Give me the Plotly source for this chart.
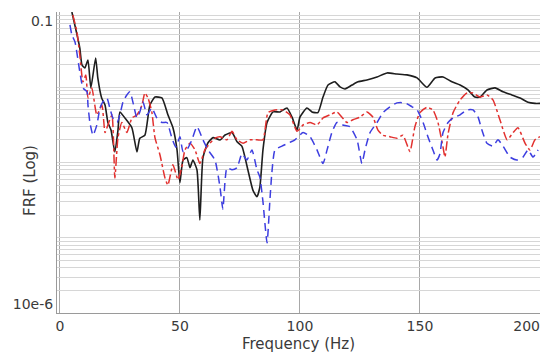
import plotly.graph_objects as go

# Frequency (Hz) / FRF magnitude
freq_black = [5.0, 6.7, 8.3, 9.2, 10.4, 11.7, 12.9, 14.9, 15.8, 17.4, 18.8, 20.0, 21.3, 22.9, 24.2, 25.0,
              27.1, 30.0, 32.1, 33.3, 35.4, 37.5, 39.6, 42.5, 45.0, 47.1, 48.8, 50.0, 51.3, 52.9, 54.2,
              55.4, 57.1, 58.3, 59.6, 61.7, 63.8, 66.7, 68.8, 71.7, 73.8, 75.8, 78.3, 80.4, 82.1, 83.3,
              84.6, 86.3, 88.8, 91.7, 94.6, 96.7, 98.8, 100.0, 102.9, 105.0, 107.5, 109.6, 111.7, 114.6,
              116.7, 118.8, 121.7, 124.2, 127.9, 132.1, 136.3, 140.4, 144.6, 148.8, 152.9, 156.3, 159.6,
              163.3, 166.7, 170.0, 172.9, 175.0, 177.9, 181.3, 184.6, 188.3, 191.7, 195.0, 197.9, 200.0]
frf_black = [0.1, 0.0577, 0.0332, 0.0198, 0.018, 0.023, 0.0098, 0.0245, 0.0133, 0.0072, 0.0058, 0.0034,
             0.0027, 0.00138, 0.0027, 0.0047, 0.0039, 0.0029, 0.00138, 0.0021, 0.0023, 0.0058, 0.0074,
             0.0072, 0.0043, 0.0029, 0.00147, 0.00054, 0.00108, 0.00116, 0.00085, 0.00108, 0.0008,
             0.000172, 0.00116, 0.00183, 0.00214, 0.00199, 0.00232, 0.0025, 0.00188, 0.00165, 0.0008,
             0.00043, 0.00035, 0.00047, 0.00147, 0.0034, 0.0047, 0.0047, 0.0053, 0.004, 0.0027, 0.004,
             0.0053, 0.0047, 0.0046, 0.0074, 0.0107, 0.0118, 0.0101, 0.0095, 0.0107, 0.0118, 0.0125,
             0.0137, 0.0155, 0.015, 0.0146, 0.0133, 0.01, 0.0133, 0.0137, 0.0118, 0.0107, 0.0092, 0.0074,
             0.0074, 0.0092, 0.0098, 0.0087, 0.0079, 0.0072, 0.0063, 0.0061, 0.0061]

freq_red = [5.4, 7.1, 8.3, 9.6, 10.8, 11.7, 13.3, 15.4, 17.5, 18.8, 20.0, 21.7, 22.9, 24.2, 25.8, 27.9,
            30.0, 32.1, 34.2, 35.4, 36.7, 38.3, 39.6, 41.7, 43.8, 45.0, 47.1, 49.2, 50.8, 52.1, 54.2,
            56.3, 58.3, 60.4, 62.5, 64.6, 66.7, 69.6, 71.7, 73.8, 76.3, 79.2, 82.1, 84.6, 86.7, 89.6,
            92.9, 95.8, 98.8, 101.3, 104.2, 107.1, 109.6, 112.5, 115.4, 117.5, 119.6, 122.1, 125.0,
            127.9, 130.4, 132.5, 134.6, 137.5, 140.4, 142.9, 145.8, 147.9, 150.0, 152.9, 155.4, 157.5,
            159.6, 160.4, 161.7, 163.8, 166.7, 169.6, 172.1, 175.0, 177.9, 180.4, 183.3, 186.3, 188.8,
            190.8, 193.8, 195.8, 197.9, 200.0]
frf_red = [0.0912, 0.0543, 0.0268, 0.0118, 0.01455, 0.0072, 0.0098, 0.00428, 0.0058, 0.0025, 0.00315,
           0.00428, 0.00062, 0.00214, 0.0034, 0.0025, 0.0039, 0.00428, 0.0058, 0.0084, 0.0072, 0.0047,
           0.00214, 0.00126, 0.00062, 0.0005, 0.00093, 0.00059, 0.00087, 0.00147, 0.0018, 0.00147,
           0.00097, 0.00147, 0.0018, 0.0021, 0.0022, 0.002, 0.0026, 0.002, 0.0018, 0.002, 0.002, 0.002,
           0.0046, 0.005, 0.005, 0.0043, 0.0026, 0.00315, 0.0034, 0.00315, 0.0039, 0.0043, 0.0047, 0.004,
           0.0034, 0.0037, 0.004, 0.0047, 0.004, 0.0027, 0.0023, 0.0022, 0.0021, 0.0023, 0.0014, 0.003,
           0.0046, 0.0054, 0.005, 0.0034, 0.0016, 0.00118, 0.0024, 0.0046, 0.0068, 0.0084, 0.0084, 0.0074,
           0.0079, 0.0068, 0.0037, 0.002, 0.0025, 0.0029, 0.0018, 0.00147, 0.002, 0.0022]

freq_blue = [4.2, 5.0, 6.3, 8.3, 9.6, 11.3, 11.7, 12.5, 13.8, 15.4, 16.7, 17.9, 19.6, 20.8, 22.1, 23.8,
             25.0, 26.3, 27.9, 29.2, 30.4, 32.1, 33.3, 34.6, 36.3, 38.3, 40.4, 42.5, 44.6, 46.7, 48.3,
             50.0, 51.3, 52.9, 55.0, 57.1, 59.6, 61.7, 64.6, 66.7, 67.9, 69.6, 71.7, 73.8, 75.8, 77.9,
             80.0, 82.1, 83.3, 84.6, 86.3, 87.5, 88.3, 89.6, 92.5, 95.0, 97.9, 101.3, 104.2, 107.1,
             109.6, 111.3, 113.3, 115.4, 117.9, 120.8, 123.8, 125.8, 127.1, 129.2, 132.1, 134.6, 137.5,
             140.4, 143.8, 146.7, 148.8, 151.3, 153.3, 155.4, 157.1, 158.3, 159.6, 161.7, 163.8, 166.7,
             169.6, 172.1, 174.2, 175.8, 177.9, 180.4, 182.5, 184.6, 187.5, 190.4, 192.9, 195.0, 197.1,
             199.2]
frf_blue = [0.0672, 0.0495, 0.04, 0.016, 0.0098, 0.0087, 0.0058, 0.0034, 0.0023, 0.00315, 0.0053, 0.0064,
            0.0072, 0.0053, 0.0039, 0.0034, 0.0043, 0.0064, 0.0079, 0.0087, 0.0064, 0.0039, 0.0047, 0.0064,
            0.0043, 0.0053, 0.0039, 0.0034, 0.0034, 0.0021, 0.0016, 0.0022, 0.0014, 0.00147, 0.002, 0.003,
            0.002, 0.00147, 0.00108, 0.00047, 0.00024, 0.00085, 0.0008, 0.00085, 0.0013, 0.00108, 0.00147,
            0.0008, 0.00064, 0.0003, 0.0000856, 0.00032, 0.00073, 0.00147, 0.00165, 0.0018, 0.002, 0.0025,
            0.0022, 0.00147, 0.00097, 0.00147, 0.0025, 0.0034, 0.00315, 0.003, 0.002, 0.00097, 0.00147,
            0.0025, 0.0034, 0.0046, 0.0055, 0.0062, 0.0062, 0.0055, 0.005, 0.0034, 0.0022, 0.00147, 0.00108,
            0.0013, 0.0025, 0.0034, 0.0039, 0.0043, 0.005, 0.005, 0.004, 0.0027, 0.0018, 0.00165, 0.002,
            0.00165, 0.00118, 0.00108, 0.00118, 0.00147, 0.00118, 0.00147]

x_ticks = [0, 50, 100, 150, 200]
# last label padded so it sits inside the right edge, as in the reference
x_labels = ["0", "50", "100", "150", "200" + "\u00a0" * 6]
y_grid = [m * 10.0 ** e for e in range(-5, -1) for m in range(1, 10)] + [0.1]
# labels drawn inside the range like the reference: bottom one lifted, top one lowered by half a line
y_labels = ["10e-6<br>\u00a0" if v == 1e-5 else ("\u00a0<br>0.1" if v == 0.1 else "") for v in y_grid]

fig = go.Figure()
fig.add_trace(go.Scatter(x=freq_black, y=frf_black, mode="lines",
                         line=dict(color="#1e1e1e", width=1.6, shape="spline", smoothing=0.5)))
fig.add_trace(go.Scatter(x=freq_red, y=frf_red, mode="lines",
                         line=dict(color="#e2312f", width=1.5, dash="dashdot", shape="spline", smoothing=0.5)))
fig.add_trace(go.Scatter(x=freq_blue, y=frf_blue, mode="lines",
                         line=dict(color="#3d3ee0", width=1.5, dash="8px,5px", shape="spline", smoothing=0.5)))

tick_font = dict(family="DejaVu Sans, Verdana, sans-serif", size=14, color="#3a3a3a")
title_font = dict(family="DejaVu Sans, Verdana, sans-serif", size=15, color="#3a3a3a")
fig.update_layout(
    width=540, height=353,
    margin=dict(l=57, r=0, t=12, b=40),
    paper_bgcolor="white", plot_bgcolor="white",
    showlegend=False,
    font=tick_font,
    xaxis=dict(
        range=[-1.2, 200], tickvals=x_ticks, ticktext=x_labels,
        showgrid=True, gridcolor="#a8a8a8", gridwidth=1, zeroline=False,
        showline=True, linecolor="#9a9a9a", linewidth=1, automargin=False,
        ticklabeloverflow="allow",
        title=dict(text="Frequency (Hz)", font=title_font), ticks="", tickfont=tick_font,
    ),
    yaxis=dict(
        type="log", range=[-5, -1], tickvals=y_grid, ticktext=y_labels,
        showgrid=True, gridcolor="#d6d6d6", gridwidth=1, zeroline=False,
        showline=True, linecolor="#9a9a9a", linewidth=1, automargin=False,
        ticklabeloverflow="allow",
        ticks="", tickfont=tick_font,
    ),
    annotations=[dict(
        text="FRF (Log)", textangle=-90, font=title_font, showarrow=False,
        xref="paper", yref="paper", x=-(57 - 30) / 483, y=(313 - 181) / 301,
        xanchor="center", yanchor="middle",
    )],
)
fig.write_html("out.html", config={"displayModeBar": False},
               post_script="document.body.style.margin='0';document.body.style.overflow='hidden';")
